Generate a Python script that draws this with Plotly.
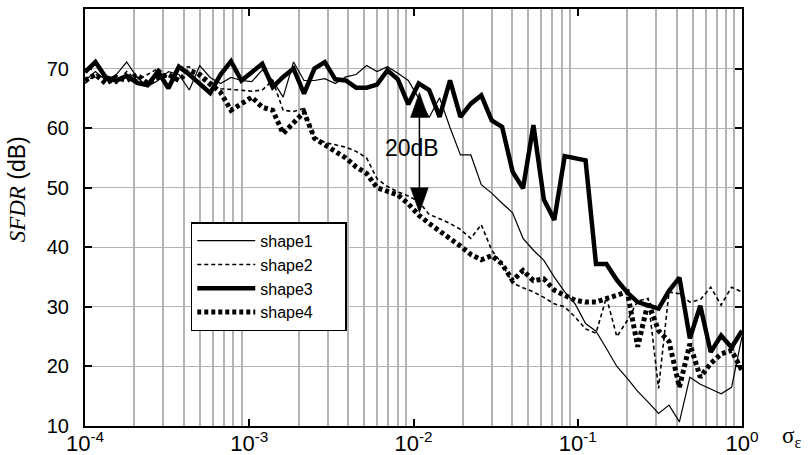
import numpy as np
import plotly.graph_objects as go

# sampling grid of sigma_epsilon (64 log-spaced points from 1e-4 to 1e0)
sigma = 10 ** np.linspace(-4, 0, 64)

shape1 = [68.0, 69.5, 68.0, 69.0, 71.1, 68.5, 67.0, 68.0, 69.5, 69.0,
          66.4, 70.5, 68.5, 67.5, 68.5, 68.0, 67.8, 69.8, 68.0, 65.2,
          71.1, 68.0, 68.0, 68.3, 67.5, 68.6, 69.0, 70.5, 69.5, 70.3,
          69.2, 68.0, 65.0, 61.8, 65.1, 60.1, 55.5, 55.5, 50.5, 49.1,
          47.4, 45.8, 41.5, 39.5, 37.8, 35.0, 32.5, 30.5, 27.2, 25.9,
          23.0, 20.0, 18.0, 15.8, 14.0, 12.1, 13.5, 10.7, 18.2, 17.0,
          16.2, 15.4, 16.5, 25.0]

shape2 = [67.5, 69.0, 68.5, 67.5, 69.5, 68.0, 69.0, 70.0, 68.5, 70.2,
          70.3, 68.5, 67.0, 66.6, 66.5, 66.4, 66.2, 66.4, 68.0, 63.0,
          62.8, 63.3, 58.5, 57.6, 57.2, 56.8, 56.1, 55.0, 51.5, 50.2,
          49.3, 48.6, 47.7, 45.5, 44.8, 44.0, 43.0, 41.5, 43.8, 39.5,
          37.2, 34.0, 33.2, 32.5, 31.6, 30.5, 30.0, 28.3, 26.3, 25.6,
          31.6, 25.0, 27.7, 31.0, 31.4, 16.3, 32.5, 32.2, 30.8, 31.2,
          33.3, 30.3, 33.3, 32.5]

shape3 = [69.4, 71.1, 68.5, 68.0, 68.8, 67.6, 67.2, 69.5, 66.7, 70.3,
          69.0, 67.5, 65.9, 69.0, 71.2, 68.0, 69.3, 70.8, 66.9, 68.6,
          70.0, 65.8, 70.0, 71.1, 68.2, 68.0, 66.8, 66.8, 67.3, 69.7,
          68.2, 64.0, 67.5, 66.4, 61.9, 68.0, 61.9, 64.1, 65.5, 61.3,
          60.2, 52.7, 49.9, 60.5, 48.0, 44.6, 55.3, 55.0, 54.6, 37.2,
          37.2, 34.5, 32.4, 30.8, 30.2, 29.7, 32.7, 34.9, 24.7, 30.2,
          22.4, 25.2, 23.2, 26.0]

shape4 = [68.0, 69.0, 67.5, 68.5, 68.0, 69.0, 67.5, 68.5, 69.0, 68.0,
          69.7, 69.0, 67.5, 66.0, 63.0, 64.2, 65.2, 63.5, 63.0, 59.1,
          61.0, 62.7, 58.3, 57.2, 56.1, 55.0, 53.5, 52.4, 50.0, 49.3,
          48.8, 47.3, 45.4, 44.0, 42.8, 41.5, 40.2, 38.8, 37.9, 38.6,
          37.2, 34.4, 36.1, 34.4, 34.7, 32.8, 31.9, 31.1, 30.8, 30.8,
          31.4, 32.0, 32.5, 23.3, 30.8, 26.0, 24.2, 16.5, 23.8, 18.2,
          20.5, 22.1, 22.7, 19.3]

series_names = ["shape1", "shape2", "shape3", "shape4"]
x_tick_vals = [1e-4, 1e-3, 1e-2, 1e-1, 1e0]
x_tick_text = ["10<sup>-4</sup>", "10<sup>-3</sup>", "10<sup>-2</sup>",
               "10<sup>-1</sup>", "10<sup>0</sup>"]
y_tick_vals = [10, 20, 30, 40, 50, 60, 70]

# 20 dB marker (log10 x position, dB ends)
arrow_xlog = -1.964
arrow_top = 66.0
arrow_bottom = 45.8

SANS = "Liberation Sans, Arial, sans-serif"
SERIF = "Liberation Serif, Times New Roman, serif"
GRID = "#b4b4b4"
PAD = "\u00a0" * 6  # extra room on the right of the legend text

fig = go.Figure()
styles = [
    dict(color="black", width=1.2),
    dict(color="black", width=1.6, dash="4px,3px"),
    dict(color="black", width=4.5),
    dict(color="black", width=5, dash="4px,3px"),
]
for name, ys, st in zip(series_names, [shape1, shape2, shape3, shape4], styles):
    fig.add_trace(go.Scatter(x=sigma, y=ys, mode="lines", name=name + PAD,
                             line=st, hoverinfo="skip"))

# double-headed arrow
hw = 0.054
head = 4.2
fig.add_trace(go.Scatter(x=[10 ** arrow_xlog, 10 ** arrow_xlog],
                         y=[arrow_bottom + 1, arrow_top - 1], mode="lines",
                         line=dict(color="black", width=1.5), showlegend=False,
                         hoverinfo="skip"))
for tip, base in [(arrow_top, arrow_top - head), (arrow_bottom, arrow_bottom + head)]:
    fig.add_trace(go.Scatter(
        x=[10 ** (arrow_xlog - hw), 10 ** arrow_xlog, 10 ** (arrow_xlog + hw), 10 ** (arrow_xlog - hw)],
        y=[base, tip, base, base], mode="lines", fill="toself",
        fillcolor="black", line=dict(color="black", width=0.5),
        showlegend=False, hoverinfo="skip"))

minor_vals = [m * 10.0 ** e for e in range(-4, 0) for m in range(2, 10)]

fig.update_layout(
    width=808, height=455,
    margin=dict(l=85, r=66, t=9, b=29, pad=0, autoexpand=False),
    paper_bgcolor="white", plot_bgcolor="white",
    font=dict(family=SANS, color="black"),
    legend=dict(x=0.161, y=0.4885, xanchor="left", yanchor="top",
                bgcolor="white", bordercolor="black", borderwidth=1.5,
                font=dict(size=16, family=SANS), itemwidth=58,
                tracegroupgap=0),
    xaxis=dict(type="log", range=[-4, 0], tickmode="array", automargin=False,
               tickvals=x_tick_vals, ticktext=x_tick_text,
               ticks="inside", ticklen=7, tickwidth=1.5, tickcolor="black",
               showline=True, linecolor="black", linewidth=2, mirror="ticks",
               showgrid=False, zeroline=False, ticklabelstandoff=-3,
               tickfont=dict(size=22, family=SANS),
               minor=dict(tickmode="array", tickvals=minor_vals, ticks="",
                          showgrid=True, gridcolor=GRID, gridwidth=1.6)),
    yaxis=dict(range=[10, 80], tickmode="array", tickvals=y_tick_vals,
               automargin=False,
               ticks="inside", ticklen=7, tickwidth=1.5, tickcolor="black",
               showline=True, linecolor="black", linewidth=2, mirror="ticks",
               showgrid=True, gridcolor=GRID, gridwidth=1.3, zeroline=False,
               ticklabelstandoff=10,
               tickfont=dict(size=20, family=SANS)),
    annotations=[
        dict(x=-2.0097, y=56.6, xref="x", yref="y", text="20dB",
             showarrow=False, font=dict(size=23, family=SANS)),
        dict(x=-0.1035, y=0.5676, xref="paper", yref="paper",
             xanchor="center", yanchor="middle",
             text="<span style=\"font-family:'Liberation Serif'\"><i>SFDR</i></span> (dB)",
             textangle=-90, showarrow=False, font=dict(size=23, family=SANS)),
        dict(x=1.076, y=-0.027, xref="paper", yref="paper",
             xanchor="center", yanchor="middle",
             text="σ<sub>ε</sub>", showarrow=False,
             font=dict(size=23, family=SERIF)),
    ],
)

fig.write_html("out.html")
